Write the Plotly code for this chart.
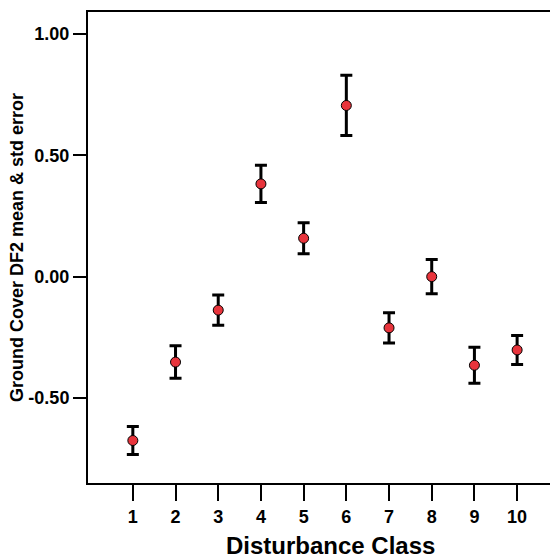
import plotly.graph_objects as go

classes = [1, 2, 3, 4, 5, 6, 7, 8, 9, 10]
means = [-0.675, -0.352, -0.138, 0.382, 0.158, 0.705, -0.211, 0.000, -0.365, -0.302]
std_err = [0.058, 0.067, 0.062, 0.077, 0.064, 0.124, 0.062, 0.071, 0.074, 0.060]

tick_vals = [-0.5, 0.0, 0.5, 1.0]
tick_text = ["-0.50", "0.00", "0.50", "1.00"]

fig = go.Figure()
fig.add_trace(go.Scatter(
    x=classes, y=means, mode="markers",
    error_y=dict(type="data", array=std_err, visible=True, color="black",
                 thickness=3, width=6),
    marker=dict(color="#e8343c", size=10, line=dict(color="black", width=1)),
    showlegend=False,
))

font = "Liberation Sans, Arial, sans-serif"
fig.update_layout(
    width=550, height=559,
    margin=dict(l=88, r=0, t=12, b=76),
    plot_bgcolor="white", paper_bgcolor="white",
    font=dict(family=font, color="black"),
    xaxis=dict(
        range=[-0.05, 10.77], tickmode="array", tickvals=classes,
        ticktext=[f"<b>{c}</b>" for c in classes],
        showgrid=False, zeroline=False, showline=True, linecolor="black",
        linewidth=2, mirror=True, ticks="outside", ticklen=16, tickwidth=2,
        tickcolor="black", tickfont=dict(size=18, family=font), automargin=False,
    ),
    yaxis=dict(
        range=[-0.85, 1.09], tickmode="array", tickvals=tick_vals,
        ticktext=[f"<b>{t}</b>" for t in tick_text],
        showgrid=False, zeroline=False, showline=True, linecolor="black",
        linewidth=2, ticks="outside", ticklen=13, tickwidth=2,
        tickcolor="black", tickfont=dict(size=18, family=font), automargin=False,
        title=dict(text="<b>Ground Cover DF2 mean & std error</b>", font=dict(size=18, family=font), standoff=0),
    ),
    annotations=[dict(
        text="<b>Disturbance Class</b>", xref="paper", yref="paper",
        x=(330 - 88) / 462, y=-(545 - 483) / 471, xanchor="center", yanchor="middle",
        showarrow=False, font=dict(size=24, family=font, color="black"),
    )],
)

fig.write_html(
    "out.html",
    config={"displayModeBar": False},
    post_script="document.body.style.margin='0';document.body.style.overflow='hidden';",
)
